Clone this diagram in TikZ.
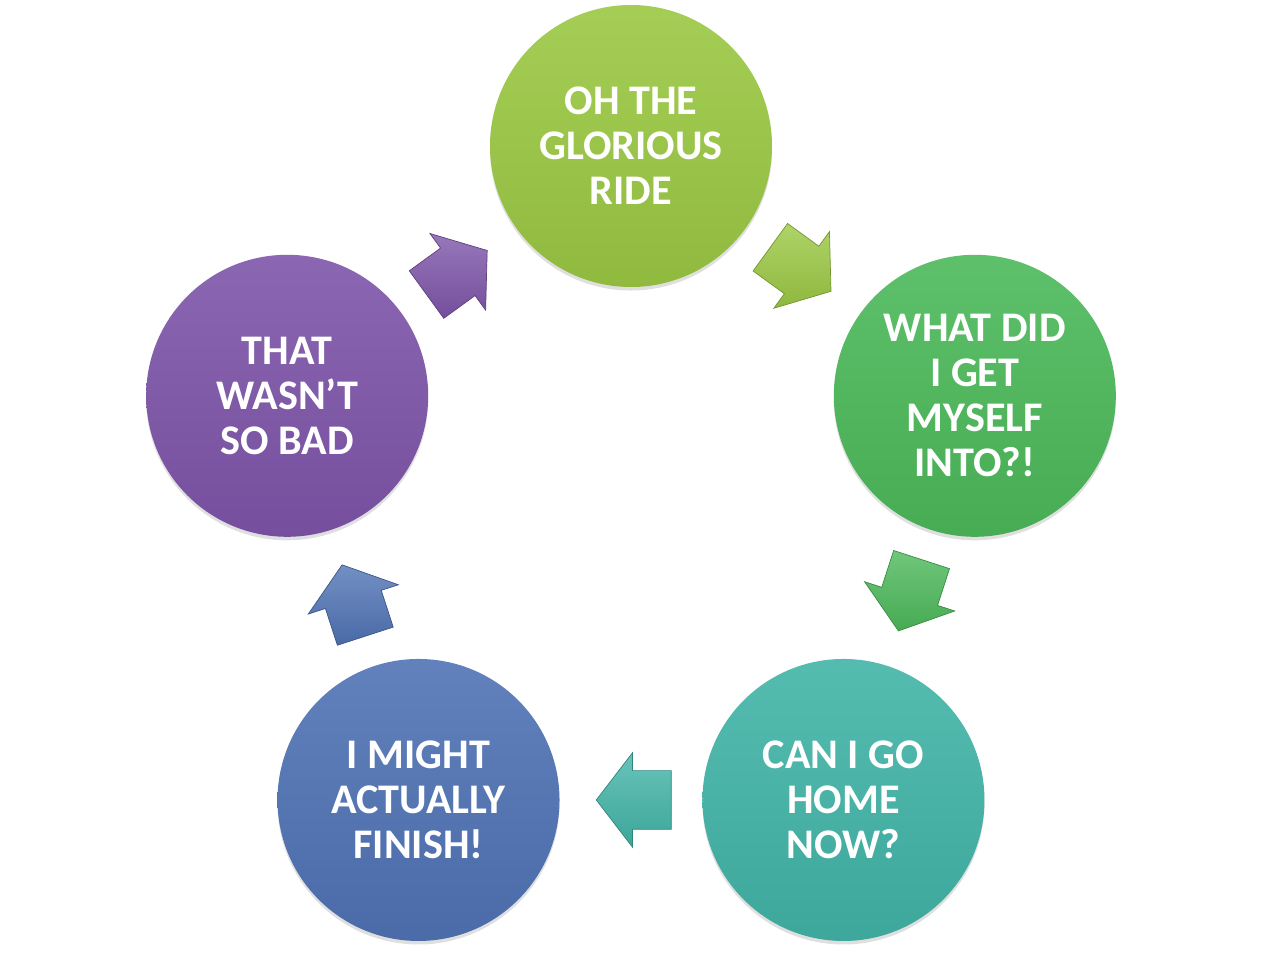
\documentclass[tikz,border=0pt]{standalone}
\usepackage{fontspec}
\setmainfont{Carlito}
\usetikzlibrary{calc,shapes.arrows,shadows}
\definecolor{RideGreen}{HTML}{9BC843}
\definecolor{SelfGreen}{HTML}{4CB95A}
\definecolor{HomeTeal}{HTML}{42B4A7}
\definecolor{FinishBlue}{HTML}{5073B5}
\definecolor{BadPurple}{HTML}{7E55A9}

\begin{document}
\begin{tikzpicture}[
  stage/.style={circle,minimum size=5.64cm,inner sep=0pt,align=center,text=white,
    font=\fontsize{24}{25.6}\selectfont\bfseries,
    top color=#1!90!white,bottom color=#1!93!black,
    drop shadow={shadow xshift=0pt,shadow yshift=-2pt,opacity=.25}},
  flow/.style={single arrow,single arrow head extend=0.36cm,single arrow tip angle=105,
    minimum height=1.5cm,minimum width=1.88cm,inner xsep=0pt,inner ysep=0.58cm,
    top color=#1!80!white,bottom color=#1!92!black,draw=#1!75!black,line width=0.4pt}]
  \useasboundingbox (-12.62,-8.95) rectangle (12.64,10.15);
  \node[stage=RideGreen] (ride) at (90:7.23) {OH THE\\GLORIOUS\\RIDE};
  \node[stage=SelfGreen] (myself) at (18:7.23) {WHAT DID\\I GET\\MYSELF\\INTO?!};
  \node[stage=HomeTeal] (home) at (-54:7.23) {CAN I GO\\HOME\\NOW?};
  \node[stage=FinishBlue] (finish) at (-126:7.23) {I MIGHT\\ACTUALLY\\FINISH!};
  \node[stage=BadPurple] (notbad) at (162:7.23) {THAT\\WASN’T\\SO BAD};
  \node[flow=RideGreen,rotate=-36] (ride-myself) at ($(ride)!0.467!(myself)$) {};
  \node[flow=SelfGreen,rotate=-108] (myself-home) at ($(myself)!0.467!(home)$) {};
  \node[flow=HomeTeal,rotate=180] (home-finish) at ($(home)!0.467!(finish)$) {};
  \node[flow=FinishBlue,rotate=108] (finish-notbad) at ($(finish)!0.467!(notbad)$) {};
  \node[flow=BadPurple,rotate=36] (notbad-ride) at ($(notbad)!0.467!(ride)$) {};
\end{tikzpicture}
\end{document}
